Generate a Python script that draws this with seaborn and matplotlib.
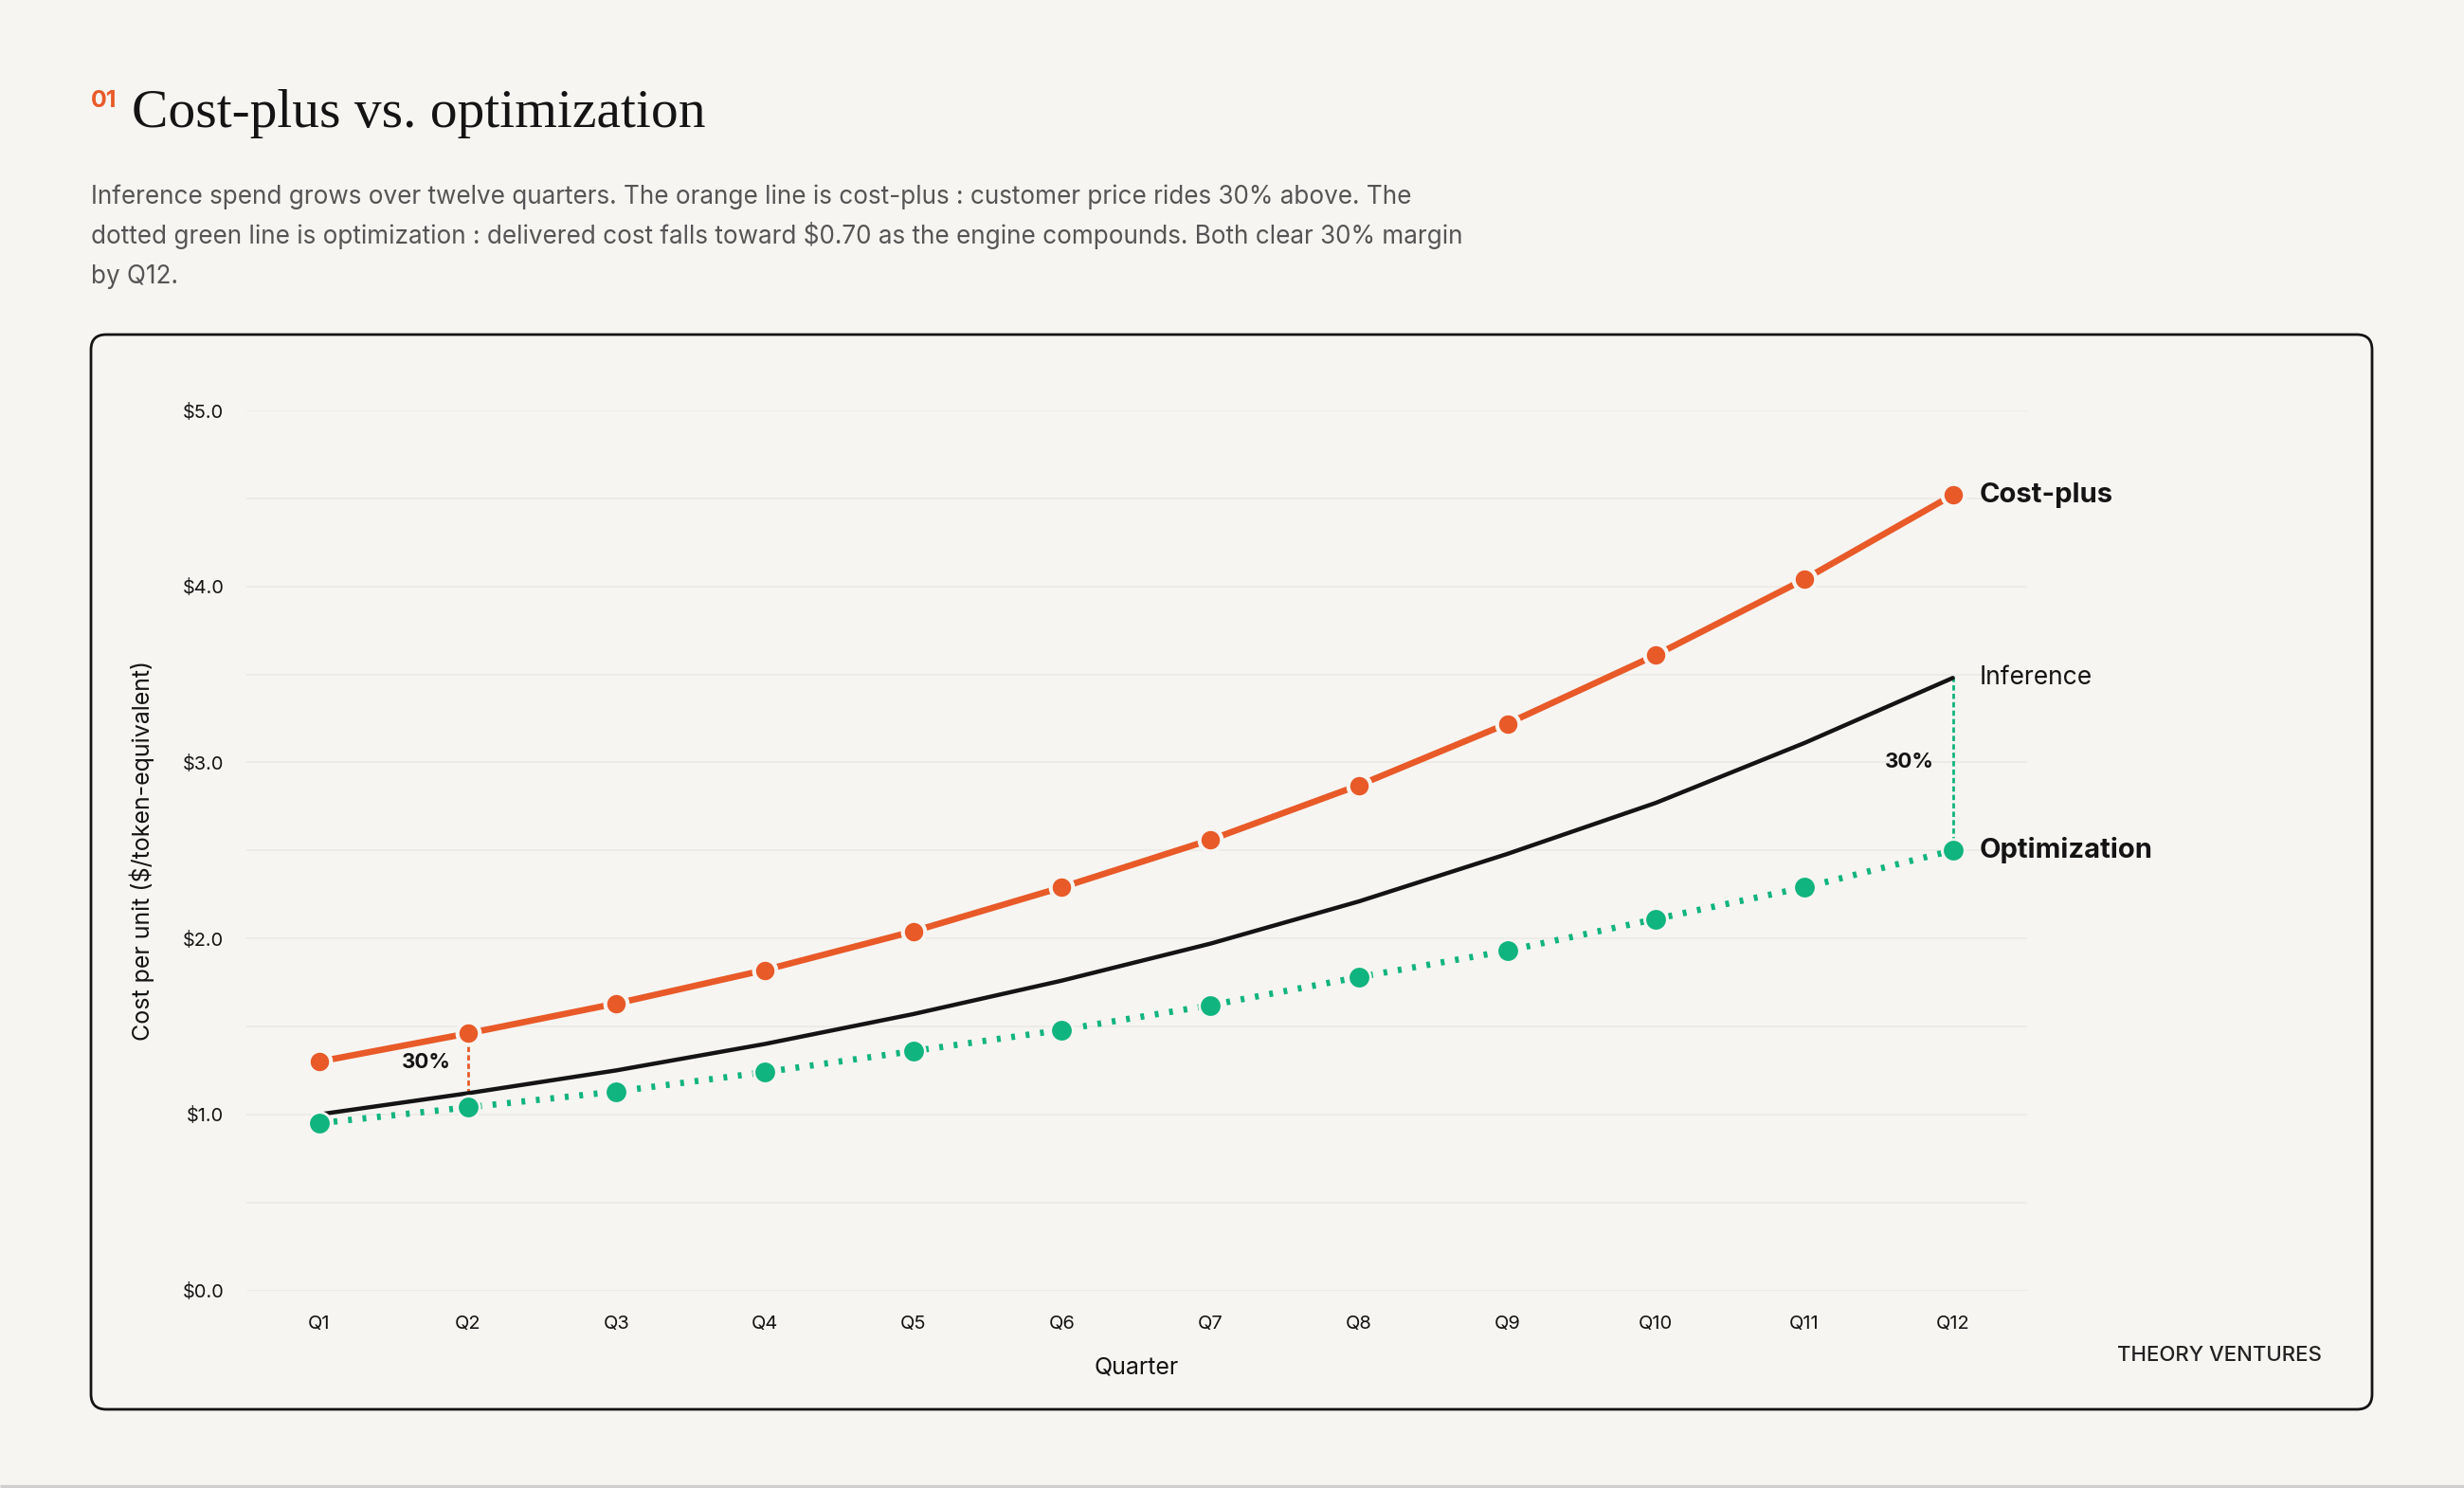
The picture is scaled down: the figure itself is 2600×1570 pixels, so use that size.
import numpy as np
import pandas as pd
import matplotlib.pyplot as plt
from matplotlib.patches import FancyBboxPatch
import seaborn as sns

# data
quarters = ["Q1", "Q2", "Q3", "Q4", "Q5", "Q6", "Q7", "Q8", "Q9", "Q10", "Q11", "Q12"]
inference = [1.00, 1.12, 1.25, 1.40, 1.57, 1.76, 1.97, 2.21, 2.48, 2.77, 3.11, 3.48]
cost_plus = [1.30, 1.46, 1.63, 1.82, 2.04, 2.29, 2.56, 2.87, 3.22, 3.61, 4.04, 4.52]
optimization = [0.95, 1.04, 1.13, 1.24, 1.36, 1.48, 1.62, 1.78, 1.93, 2.11, 2.29, 2.50]
y_ticks = [0, 1, 2, 3, 4, 5]

BG = "#F7F5F2"
ORANGE = "#E85A28"
GREEN = "#10B47E"
INK = "#141414"

sns.set_theme(style="white")
plt.rcParams["font.family"] = ["Inter", "DejaVu Sans"]

df = pd.DataFrame({
    "x": np.arange(len(quarters)),
    "quarter": quarters,
    "inference": inference,
    "cost_plus": cost_plus,
    "optimization": optimization,
})

fig = plt.figure(figsize=(13, 7.85), dpi=200, facecolor=BG)

# overlay in pixel coordinates for the page furniture
page = fig.add_axes([0, 0, 1, 1], zorder=0)
page.set_xlim(0, 2600)
page.set_ylim(1570, 0)
page.axis("off")
page.set_facecolor(BG)

card = FancyBboxPatch((96, 353), 2407, 1134, boxstyle="round,pad=0,rounding_size=16",
                      facecolor=BG, edgecolor=INK, linewidth=1.0)
page.add_patch(card)
page.plot([0, 2600], [1568, 1568], color="#CFCFCF", lw=1.2, solid_capstyle="butt")

page.text(96, 113, "01", color=ORANGE, fontsize=9, fontweight="bold", ha="left", va="baseline")
page.text(139, 134, "Cost-plus vs. optimization", family=["Liberation Serif", "DejaVu Serif"],
          fontsize=20.7, color=INK, ha="left", va="baseline")

sub_lines = [
    "Inference spend grows over twelve quarters. The orange line is cost-plus : customer price rides 30% above. The",
    "dotted green line is optimization : delivered cost falls toward $0.70 as the engine compounds. Both clear 30% margin",
    "by Q12.",
]
for i, line in enumerate(sub_lines):
    page.text(96, 215 + 42 * i, line, fontsize=9.4, color="#555555", ha="left", va="baseline")

page.text(2450, 1430, "THEORY VENTURES", fontsize=8, fontweight="medium", color="#222222",
          ha="right", va="center")

# chart
ax = fig.add_axes([0.1, 0.1328, 0.7227, 0.5914], zorder=1)
ax.set_facecolor("none")

sns.lineplot(data=df, x="x", y="inference", ax=ax, color=INK, lw=1.6, zorder=3)
sns.lineplot(data=df, x="x", y="optimization", ax=ax, color=GREEN, lw=2.4,
             linestyle=(0, (0.6, 1.7)), dash_capstyle="butt",
             marker="o", markersize=8.5, markeredgecolor=BG, markeredgewidth=1.0, zorder=4)
sns.lineplot(data=df, x="x", y="cost_plus", ax=ax, color=ORANGE, lw=2.4,
             marker="o", markersize=8.5, markeredgecolor=BG, markeredgewidth=1.5, zorder=5)

# 30% gaps
ax.vlines(1, inference[1], cost_plus[1], color=ORANGE, lw=1.0, linestyles=(0, (2, 1.2)), zorder=2)
ax.vlines(11, optimization[11], inference[11], color=GREEN, lw=1.0, linestyles=(0, (2, 1.2)), zorder=2)
ax.text(0.72, 1.295, "30%", fontsize=8, fontweight="bold", color=INK, ha="center", va="center")
ax.text(10.71, 3.0, "30%", fontsize=8, fontweight="bold", color=INK, ha="center", va="center")

# end labels
last = len(quarters) - 1
ax.text(last + 0.18, cost_plus[-1], "Cost-plus", fontsize=10.5, fontweight="bold", color=INK, va="center")
ax.text(last + 0.18, inference[-1], "Inference", fontsize=9.5, color=INK, va="center")
ax.text(last + 0.18, optimization[-1], "Optimization", fontsize=10.5, fontweight="bold", color=INK, va="center")

ax.set_xlim(-0.49, 11.5)
ax.set_ylim(0, 5)
ax.set_xticks(df["x"])
ax.set_xticklabels(quarters)
ax.set_yticks(y_ticks)
ax.set_yticklabels([f"${v:.1f}" for v in y_ticks])
ax.set_yticks(np.arange(0.5, 5, 1.0), minor=True)
ax.grid(axis="y", which="both", color="#ECEAE6", lw=0.6)
ax.tick_params(axis="both", which="both", length=0, labelsize=7.2, colors=INK)
ax.tick_params(axis="y", pad=8.5)
ax.tick_params(axis="x", pad=9.5)
for s in ax.spines.values():
    s.set_visible(False)

ax.set_xlabel("Quarter", fontsize=9, color=INK)
ax.set_ylabel("Cost per unit ($/token-equivalent)", fontsize=9, color=INK)
ax.xaxis.set_label_coords(0.5, -0.075)
ax.yaxis.set_label_coords(-0.0516, 0.5)

fig.savefig("out.png", dpi=200, facecolor=BG)
